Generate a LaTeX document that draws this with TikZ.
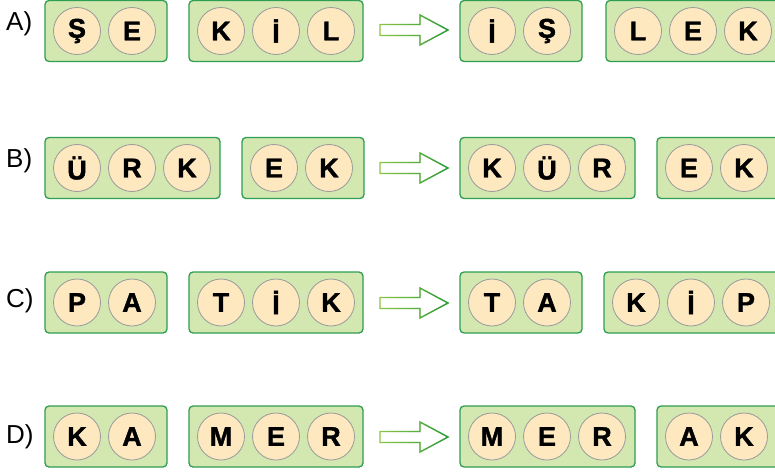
\documentclass[tikz,border=0pt]{standalone}
\usepackage{fontspec}
\setmainfont{Liberation Sans}
\newfontfamily\ltrfont[FakeBold=1.5]{Liberation Sans Bold}
\usetikzlibrary{fadings}
\definecolor{boxfill}{HTML}{D3E7B0}
\definecolor{boxdraw}{HTML}{2E9E52}
\definecolor{cfill}{HTML}{FDE8C0}
\definecolor{cdraw}{HTML}{9A9A9A}
\definecolor{arrowlight}{HTML}{8CC63F}
\definecolor{arrowdark}{HTML}{2E9A48}
\tikzfading[name=fadeleft, left color=transparent!100, right color=transparent!0]
\tikzset{
  grpbox/.style={draw=boxdraw, fill=boxfill, line width=1.3pt, rounded corners=4pt, inner sep=0pt},
  ltr/.style={circle, draw=cdraw, fill=cfill, line width=0.8pt, minimum size=47pt, inner sep=0pt,
    font=\ltrfont\fontsize{27}{27}\selectfont},
  lbl/.style={font=\fontsize{26}{26}\selectfont, anchor=west, inner sep=0pt},
  arr/.style={fill=white, line width=1.3pt, line join=miter}
}
% #1 name, #2 left x, #3 right x, #4 centre y, #5 letters
\newcommand\grp[5]{%
  \node[grpbox, minimum width={(#3-#2)*1pt}, minimum height=61pt] (#1) at ({(#2+#3)/2},#4) {};
  \foreach \c [count=\i] in {#5} {
    \node[ltr] (#1-\i) at ({#2+32+55*(\i-1)},#4) {\c};
  }%
}
% #1 name, #2 centre y
\newcommand\bigarrow[2]{%
  \coordinate (#1) at (414,#2);
  \draw[arr, draw=arrowlight] (380,#2-5.5) -- (420,#2-5.5) -- (420,#2-15) -- (448,#2)
    -- (420,#2+15) -- (420,#2+5.5) -- (380,#2+5.5) -- cycle;
  \draw[line width=1.3pt, line join=miter, draw=arrowdark, path fading=fadeleft, fit fading=true]
    (380,#2-5.5) -- (420,#2-5.5) -- (420,#2-15) -- (448,#2)
    -- (420,#2+15) -- (420,#2+5.5) -- (380,#2+5.5) -- cycle;
}
\begin{document}
\begin{tikzpicture}[x=1pt,y=-1pt]
  \useasboundingbox (0,0) rectangle (775,473);
  \clip (0,0) rectangle (775,473);
  % Row A
  \node[lbl] (la) at (6,24) {A)};
  \grp{a1}{45}{167}{31}{Ş,E}
  \grp{a2}{189}{363}{31}{K,İ,L}
  \bigarrow{aa}{30}
  \grp{a3}{460}{582}{31}{İ,Ş}
  \grp{a4}{606}{790}{31}{L,E,K}
  % Row B
  \node[lbl] (lb) at (6,161) {B)};
  \grp{b1}{45}{220}{168}{Ü,R,K}
  \grp{b2}{242}{364}{168}{E,K}
  \bigarrow{ba}{168}
  \grp{b3}{460}{635}{168}{K,Ü,R}
  \grp{b4}{657}{790}{168}{E,K}
  % Row C
  \node[lbl] (lc) at (6,301) {C)};
  \grp{c1}{45}{167}{302.5}{P,A}
  \grp{c2}{189}{363}{302.5}{T,İ,K}
  \bigarrow{ca}{303}
  \grp{c3}{460}{582}{302.5}{T,A}
  \grp{c4}{604}{790}{302.5}{K,İ,P}
  % Row D
  \node[lbl] (ld) at (6,437) {D)};
  \grp{d1}{45}{167}{436.5}{K,A}
  \grp{d2}{189}{363}{436.5}{M,E,R}
  \bigarrow{da}{437}
  \grp{d3}{460}{635}{436.5}{M,E,R}
  \grp{d4}{657}{790}{436.5}{A,K}
\end{tikzpicture}
\end{document}
